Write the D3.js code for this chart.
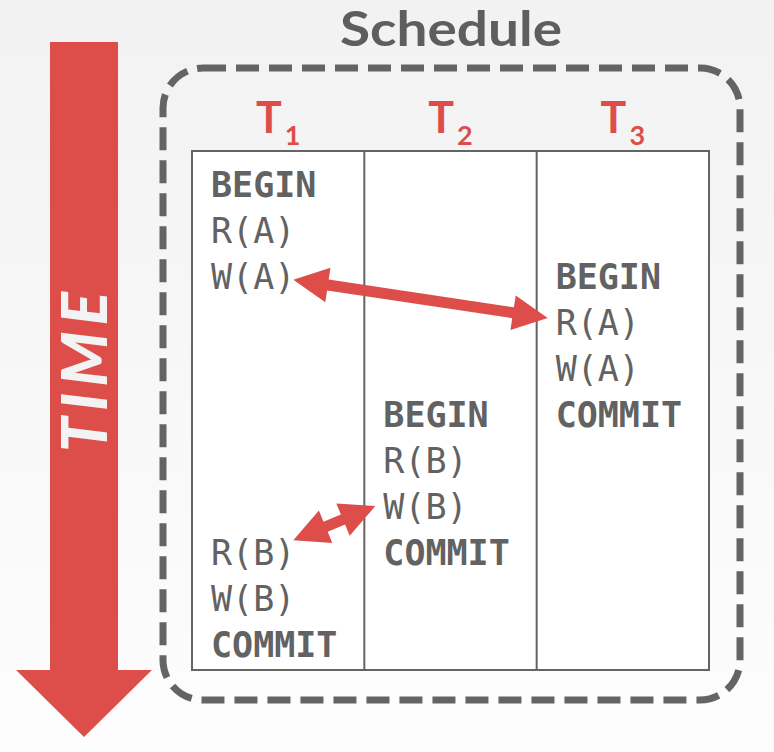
<!DOCTYPE html>
<html>
<head>
<meta charset="utf-8">
<script src="https://cdn.jsdelivr.net/npm/d3@7"></script>
<style>
  html, body { margin: 0; padding: 0; background: #f6f6f6; }
  svg { display: block; }
</style>
</head>
<body>
<script>
// schedule data: one array per transaction, index = time slot
var txns = ["1", "2", "3"];
var slots = d3.range(0, 11);
var t1Ops = ["BEGIN", "R(A)", "W(A)", null, null, null, null, null, "R(B)", "W(B)", "COMMIT"];
var t2Ops = [null, null, null, null, null, "BEGIN", "R(B)", "W(B)", "COMMIT", null, null];
var t3Ops = [null, null, "BEGIN", "R(A)", "W(A)", "COMMIT", null, null, null, null, null];
var boldOps = ["BEGIN", "COMMIT"];
// conflicting pairs: [txn, slot of op, y of arrow tip in slot units]
var conflictFrom = [["1", 2, 1.80], ["1", 8, 7.46]];
var conflictTo = [["3", 3, 2.63], ["2", 7, 6.72]];

var svgWidth = 774;
var svgHeight = 752;
var red = "#dd4e4b";
var grey = "#646464";

var svg = d3.select("body").append("svg")
    .attr("width", svgWidth)
    .attr("height", svgHeight);

// background
var grad = svg.append("defs").append("linearGradient")
    .attr("id", "bg")
    .attr("x1", 0).attr("y1", 0).attr("x2", 0).attr("y2", 1);
grad.append("stop").attr("offset", "0%").attr("stop-color", "#f2f2f2");
grad.append("stop").attr("offset", "100%").attr("stop-color", "#fdfdfd");
svg.append("rect")
    .attr("width", svgWidth)
    .attr("height", svgHeight)
    .attr("fill", "url(#bg)");

// scales
var xScale = d3.scaleBand()
    .domain(txns)
    .range([192, 709]);
var yScale = d3.scaleLinear()
    .domain([0, 10])
    .range([197, 657]);

//---------------------------------------------------
// TIME arrow
svg.append("path")
    .attr("d", "M50,42 L118,42 L118,670 L152,670 L84,737 L16,670 L50,670 Z")
    .attr("fill", red);
svg.append("text")
    .attr("transform", "translate(107,372) rotate(-90)")
    .attr("text-anchor", "middle")
    .attr("font-family", "Lato, sans-serif")
    .attr("font-weight", "900")
    .attr("font-style", "italic")
    .attr("font-size", 62)
    .attr("textLength", 160)
    .attr("fill", "#f3f3f3")
    .text("TIME");

//---------------------------------------------------
// schedule box + title
svg.append("rect")
    .attr("x", 163)
    .attr("y", 68)
    .attr("width", 577)
    .attr("height", 632)
    .attr("rx", 40)
    .attr("fill", "none")
    .attr("stroke", grey)
    .attr("stroke-width", 7)
    .attr("stroke-dasharray", "23,10");
svg.append("text")
    .attr("x", 451)
    .attr("y", 46)
    .attr("text-anchor", "middle")
    .attr("font-family", "Lato, sans-serif")
    .attr("font-weight", "bold")
    .attr("font-size", 48)
    .attr("textLength", 222)
    .attr("lengthAdjust", "spacingAndGlyphs")
    .attr("fill", "#5e5e5e")
    .text("Schedule");

// table
svg.append("rect")
    .attr("x", xScale.range()[0])
    .attr("y", 151)
    .attr("width", xScale.range()[1] - xScale.range()[0])
    .attr("height", 519)
    .attr("fill", "#fff")
    .attr("stroke", grey)
    .attr("stroke-width", 2);
svg.selectAll(".colLine")
    .data(txns.slice(1))
    .enter().append("line")
    .attr("x1", function(d) { return xScale(d); })
    .attr("x2", function(d) { return xScale(d); })
    .attr("y1", 151)
    .attr("y2", 670)
    .attr("stroke", grey)
    .attr("stroke-width", 2);

// T1 T2 T3 headers
var hdr = svg.selectAll(".hdr")
    .data(txns)
    .enter().append("text")
    .attr("x", function(d) { return xScale(d) + xScale.bandwidth() / 2; })
    .attr("y", 133)
    .attr("text-anchor", "middle")
    .attr("font-family", "Lato, sans-serif")
    .attr("font-weight", "bold")
    .attr("fill", red);
hdr.append("tspan").attr("font-size", 43).text("T");
hdr.append("tspan").attr("font-size", 27).attr("dx", 3).attr("dy", 12)
    .text(function(d) { return d; });

// operations
var opsByTxn = [t1Ops, t2Ops, t3Ops];
var cells = [];
txns.forEach(function(t, i) {
    slots.forEach(function(s) {
        if (opsByTxn[i][s]) cells.push({ txn: t, slot: s, op: opsByTxn[i][s] });
    });
});
var opText = svg.selectAll(".op")
    .data(cells)
    .enter().append("text")
    .attr("class", "op")
    .attr("x", function(d) { return xScale(d.txn) + 19; })
    .attr("y", function(d) { return yScale(d.slot); })
    .attr("font-family", "'DejaVu Sans Mono', monospace")
    .attr("font-size", 35)
    .attr("font-weight", function(d) { return boldOps.indexOf(d.op) >= 0 ? "bold" : "normal"; })
    .attr("fill", "#626262")
    .text(function(d) { return d.op; });

// width of an op's label
function opWidth(t, s) {
    var w = 0;
    opText.each(function(d) {
        if (d.txn === t && d.slot === s) w = this.getComputedTextLength();
    });
    return w;
}

//---------------------------------------------------
// conflict arrows (double headed)
function doubleArrow(x1, y1, x2, y2) {
    var head = 35, half = 17.5, shaft = 5.5;
    var dx = x2 - x1, dy = y2 - y1;
    var len = Math.sqrt(dx * dx + dy * dy);
    var ux = dx / len, uy = dy / len, nx = -uy, ny = ux;
    function p(a, b) { return [x1 + ux * a + nx * b, y1 + uy * a + ny * b]; }
    var pts = [p(0, 0), p(head, half), p(head, shaft), p(len - head, shaft), p(len - head, half),
               p(len, 0), p(len - head, -half), p(len - head, -shaft), p(head, -shaft), p(head, -half)];
    return "M" + pts.map(function(q) { return q[0].toFixed(1) + "," + q[1].toFixed(1); }).join("L") + "Z";
}
conflictFrom.forEach(function(f, i) {
    var t = conflictTo[i];
    var x1 = xScale(f[0]) + 19 + opWidth(f[0], f[1]) - 2;
    var x2 = xScale(t[0]) + 19 - 8;
    svg.append("path")
        .attr("d", doubleArrow(x1, yScale(f[2]), x2, yScale(t[2])))
        .attr("fill", red);
});
</script>
</body>
</html>
